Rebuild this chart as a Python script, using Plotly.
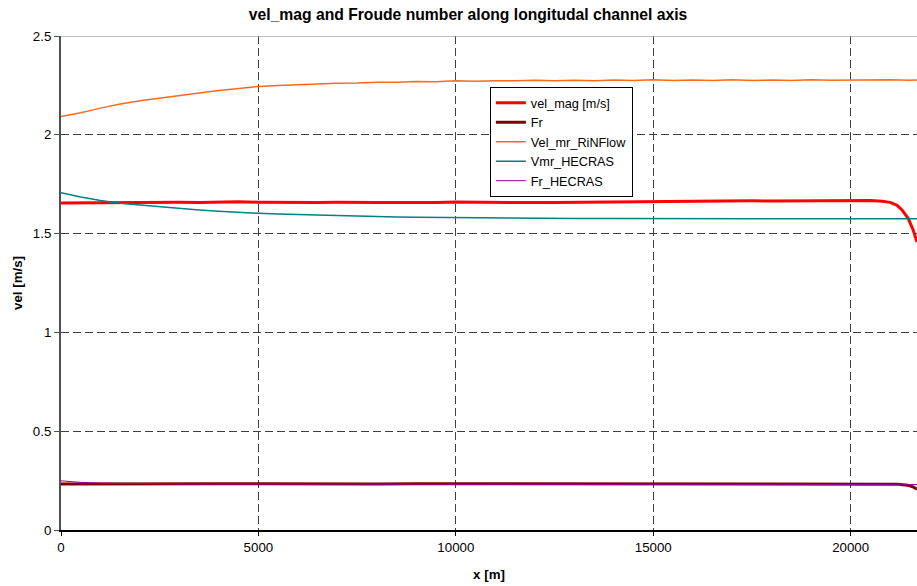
import plotly.graph_objects as go

# Distance along the channel axis [m] and the computed profiles
x_vel = [0, 500, 1000, 1500, 2000, 2500, 3000, 3500, 4000, 4500, 5000, 5500, 6000,
         6500, 7000, 7500, 8000, 8500, 9000, 9500, 10000, 10500, 11000, 11500, 12000,
         12500, 13000, 13500, 14000, 14500, 15000, 15500, 16000, 16500, 17000, 17500,
         18000, 18500, 19000, 19500, 20000, 20500, 20800, 21000, 21175, 21300, 21460,
         21580, 21680]
vel_mag = [1.655, 1.656, 1.657, 1.659, 1.660, 1.661, 1.659, 1.658, 1.660, 1.661, 1.659,
           1.658, 1.657, 1.658, 1.659, 1.660, 1.658, 1.657, 1.656, 1.658, 1.660, 1.659,
           1.657, 1.656, 1.657, 1.658, 1.659, 1.660, 1.661, 1.662, 1.663, 1.662, 1.663,
           1.664, 1.665, 1.666, 1.665, 1.666, 1.667, 1.668, 1.668, 1.667, 1.664, 1.658,
           1.643, 1.620, 1.576, 1.520, 1.457]

x_fr = [0, 1000, 2000, 3000, 4000, 5000, 6000, 7000, 8000, 9000, 10000, 11000, 12000,
        13000, 14000, 15000, 16000, 17000, 18000, 19000, 20000, 20800, 21200, 21450,
        21580, 21680]
fr = [0.233, 0.234, 0.234, 0.233, 0.234, 0.234, 0.233, 0.234, 0.233, 0.234, 0.234,
      0.233, 0.234, 0.234, 0.233, 0.234, 0.234, 0.234, 0.235, 0.235, 0.235, 0.234,
      0.232, 0.226, 0.218, 0.207]

x_rin = [0, 500, 1000, 1500, 2000, 2500, 3000, 3500, 4000, 4500, 5000, 5500, 6000,
         6500, 7000, 7500, 8000, 8500, 9000, 9500, 10000, 10500, 11000, 11500, 12000,
         12500, 13000, 13500, 14000, 14500, 15000, 15500, 16000, 16500, 17000, 17500,
         18000, 18500, 19000, 19500, 20000, 20500, 21000, 21500, 21680]
vel_rinflow = [2.093, 2.112, 2.135, 2.156, 2.172, 2.186, 2.199, 2.212, 2.224, 2.236,
               2.245, 2.249, 2.254, 2.258, 2.261, 2.262, 2.266, 2.266, 2.270, 2.269,
               2.273, 2.271, 2.274, 2.273, 2.276, 2.273, 2.276, 2.274, 2.277, 2.275,
               2.278, 2.275, 2.277, 2.275, 2.278, 2.275, 2.277, 2.275, 2.278, 2.276,
               2.277, 2.275, 2.278, 2.276, 2.277]

x_hec = [0, 250, 500, 1000, 1500, 2000, 2500, 3000, 3500, 4000, 4500, 5000, 5500, 6000,
         6500, 7000, 7500, 8000, 8500, 9000, 9500, 10000, 11000, 12000, 13000, 14000,
         15000, 16000, 17000, 18000, 19000, 20000, 21000, 21680]
vmr_hecras = [1.707, 1.696, 1.685, 1.667, 1.654, 1.645, 1.636, 1.627, 1.620, 1.613,
              1.607, 1.603, 1.599, 1.596, 1.593, 1.590, 1.588, 1.586, 1.584, 1.583,
              1.582, 1.581, 1.579, 1.578, 1.577, 1.577, 1.576, 1.576, 1.576, 1.575,
              1.575, 1.575, 1.575, 1.575]
fr_hecras = [0.249, 0.245, 0.241, 0.237, 0.235, 0.234, 0.234, 0.233, 0.233, 0.233,
             0.233, 0.233, 0.232, 0.232, 0.232, 0.232, 0.232, 0.232, 0.232, 0.232,
             0.232, 0.232, 0.232, 0.231, 0.231, 0.231, 0.231, 0.231, 0.231, 0.231,
             0.231, 0.231, 0.230, 0.230]

x_ticks = [0, 5000, 10000, 15000, 20000]
y_ticks = [0, 0.5, 1, 1.5, 2, 2.5]
y_tick_text = ["0", "0.5", "1", "1.5", "2", "2.5"]

FONT = "Liberation Sans, Arial, sans-serif"
LABEL = 13.3

fig = go.Figure()
fig.add_trace(go.Scatter(x=x_vel, y=vel_mag, mode="lines", name="vel_mag [m/s]",
                         line=dict(color="#FF0000", width=3)))
fig.add_trace(go.Scatter(x=x_fr, y=fr, mode="lines", name="Fr",
                         line=dict(color="#800000", width=3)))
fig.add_trace(go.Scatter(x=x_rin, y=vel_rinflow, mode="lines", name="Vel_mr_RiNFlow",
                         line=dict(color="#FF6A1A", width=1.5)))
fig.add_trace(go.Scatter(x=x_hec, y=vmr_hecras, mode="lines", name="Vmr_HECRAS",
                         line=dict(color="#008080", width=1.5)))
fig.add_trace(go.Scatter(x=x_hec, y=fr_hecras, mode="lines", name="Fr_HECRAS",
                         line=dict(color="#990099", width=1)))

# solid top border at the axis maximum
fig.add_shape(type="line", xref="paper", yref="y", x0=0, x1=1, y0=2.5, y1=2.5,
              line=dict(color="#808080", width=1))

fig.update_layout(
    width=917, height=586,
    margin=dict(l=61, r=0, t=36, b=56),
    paper_bgcolor="white", plot_bgcolor="white",
    font=dict(family=FONT, size=LABEL, color="black"),
    title=dict(text="<b>vel_mag and Froude number along longitudal channel axis</b>",
               x=0.4755, xanchor="center", xref="paper", y=0.976, yanchor="middle",
               font=dict(family=FONT, size=15.7, color="black")),
    showlegend=True,
    legend=dict(x=0.501, y=0.897, xanchor="left", yanchor="top",
                bgcolor="white", bordercolor="black", borderwidth=1,
                font=dict(family=FONT, size=12.7, color="black"),
                tracegroupgap=0),
)

fig.update_xaxes(
    range=[0, 21680], tickvals=x_ticks, ticktext=[str(v) for v in x_ticks],
    showgrid=True, gridcolor="#404040", gridwidth=1, griddash="8px,4px",
    showline=True, linecolor="black", linewidth=1.5,
    ticks="outside", ticklen=4, tickcolor="black", zeroline=False,
    title=dict(text="<b>x [m]</b>", font=dict(family=FONT, size=LABEL), standoff=16),
    tickfont=dict(family=FONT, size=LABEL),
)
fig.update_yaxes(
    range=[0, 2.5], tickvals=y_ticks, ticktext=y_tick_text,
    showgrid=True, gridcolor="#404040", gridwidth=1, griddash="8px,4px",
    showline=True, linecolor="#505050", linewidth=2,
    ticks="outside", ticklen=5, tickcolor="#505050", zeroline=False,
    title=dict(text="<b>vel [m/s]</b>", font=dict(family=FONT, size=LABEL), standoff=7),
    tickfont=dict(family=FONT, size=LABEL),
)

fig.write_html("out.html")
